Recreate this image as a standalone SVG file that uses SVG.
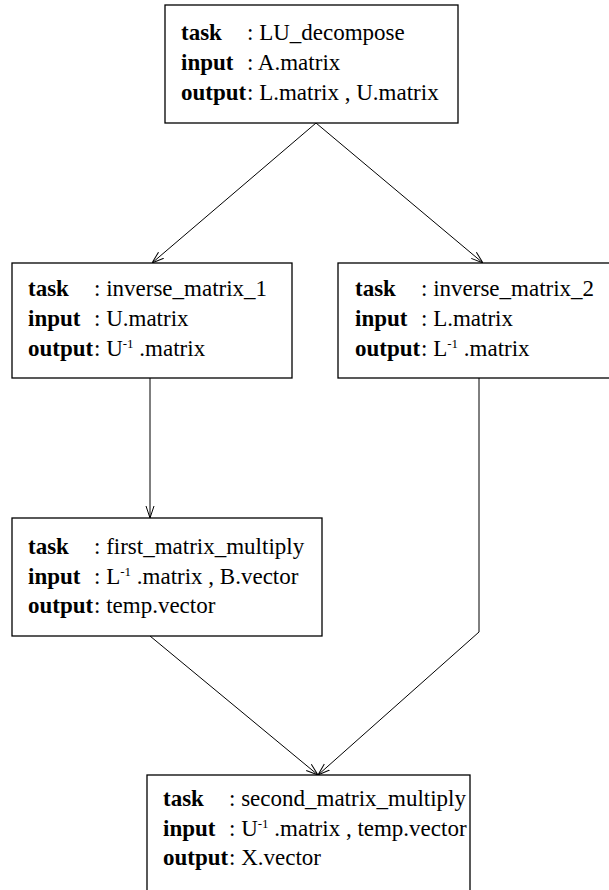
<svg xmlns="http://www.w3.org/2000/svg" width="609" height="890" viewBox="0 0 609 890">
<style>
.box{fill:#fff;stroke:#000;stroke-width:1.3}
text{font-family:"Liberation Serif","Times New Roman",serif;font-size:23px;fill:#000}
.k{font-weight:bold}
.sup{font-size:13px}
.c{fill:none;stroke:#000;stroke-width:1}
</style>
<defs>
<marker id="ah" viewBox="0 0 12 10" refX="12" refY="5" markerWidth="12" markerHeight="10" markerUnits="userSpaceOnUse" orient="auto">
<path d="M0,1 L12,5 L0,9" fill="none" stroke="#000" stroke-width="1"/>
</marker>
</defs>
<rect width="609" height="890" fill="#fff"/>
<g id="connectors">
<line class="c" x1="316" y1="123" x2="152" y2="263" marker-end="url(#ah)"/>
<line class="c" x1="316" y1="123" x2="483" y2="263" marker-end="url(#ah)"/>
<line class="c" x1="150" y1="378" x2="150" y2="518" marker-end="url(#ah)"/>
<line class="c" x1="150" y1="636" x2="318" y2="775" marker-end="url(#ah)"/>
<polyline class="c" points="479,378 479,632 318,775" marker-end="url(#ah)"/>
</g>
<g id="LU_decompose">
<rect class="box" x="165" y="5" width="293" height="118"/>
<text x="181" y="40"><tspan class="k">task</tspan><tspan x="247">: LU_decompose</tspan></text>
<text x="181" y="70"><tspan class="k">input</tspan><tspan x="247">: A.matrix</tspan></text>
<text x="181" y="100"><tspan class="k">output</tspan><tspan x="247">: L.matrix , U.matrix</tspan></text>
</g>
<g id="inverse_matrix_1">
<rect class="box" x="12" y="263" width="280" height="115"/>
<text x="28" y="296"><tspan class="k">task</tspan><tspan x="94">: inverse_matrix_1</tspan></text>
<text x="28" y="326"><tspan class="k">input</tspan><tspan x="94">: U.matrix</tspan></text>
<text x="28" y="356"><tspan class="k">output</tspan><tspan x="94">: U</tspan><tspan class="sup" dy="-8">-1</tspan><tspan dy="8"> .matrix</tspan></text>
</g>
<g id="inverse_matrix_2">
<rect class="box" x="338" y="263" width="276" height="115"/>
<text x="355" y="296"><tspan class="k">task</tspan><tspan x="421">: inverse_matrix_2</tspan></text>
<text x="355" y="326"><tspan class="k">input</tspan><tspan x="421">: L.matrix</tspan></text>
<text x="355" y="356"><tspan class="k">output</tspan><tspan x="421">: L</tspan><tspan class="sup" dy="-8">-1</tspan><tspan dy="8">  .matrix</tspan></text>
</g>
<g id="first_matrix_multiply">
<rect class="box" x="12" y="518" width="310" height="118"/>
<text x="28" y="554"><tspan class="k">task</tspan><tspan x="94">: first_matrix_multiply</tspan></text>
<text x="28" y="584"><tspan class="k">input</tspan><tspan x="94">: L</tspan><tspan class="sup" dy="-8">-1</tspan><tspan dy="8">  .matrix , B.vector</tspan></text>
<text x="28" y="613"><tspan class="k">output</tspan><tspan x="94">: temp.vector</tspan></text>
</g>
<g id="second_matrix_multiply">
<rect class="box" x="147" y="775" width="323" height="130"/>
<text x="163" y="806"><tspan class="k">task</tspan><tspan x="229">: second_matrix_multiply</tspan></text>
<text x="163" y="836"><tspan class="k">input</tspan><tspan x="229">: U</tspan><tspan class="sup" dy="-8">-1</tspan><tspan dy="8"> .matrix , temp.vector</tspan></text>
<text x="163" y="865"><tspan class="k">output</tspan><tspan x="229">: X.vector</tspan></text>
</g>
</svg>
